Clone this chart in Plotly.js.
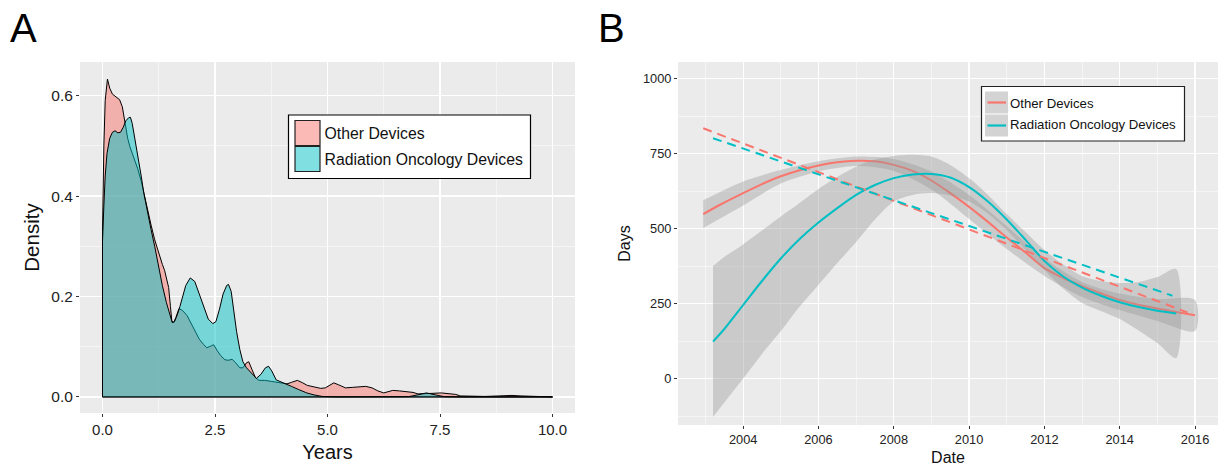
<!DOCTYPE html>
<html><head><meta charset="utf-8">
<script src="https://cdn.plot.ly/plotly-3.0.1.min.js"></script>
<style>html,body{margin:0;padding:0;background:#fff;}#chart{width:1226px;height:473px;}</style>
</head><body><div id="chart"></div>
<script>
// ---------- Panel A: density of years ----------
const otherYearsX = [0.00,0.03,0.06,0.11,0.16,0.22,0.30,0.38,0.44,0.50,0.56,0.61,0.70,0.78,0.86,0.93,1.00,1.08,1.16,1.25,1.33,1.38,1.43,1.47,1.51,1.54,1.58,1.63,1.70,1.78,1.88,1.98,2.06,2.15,2.25,2.32,2.40,2.47,2.55,2.63,2.72,2.80,2.88,2.96,3.05,3.12,3.20,3.25,3.32,3.40,3.48,3.60,3.75,3.90,4.00,4.10,4.20,4.33,4.45,4.55,4.70,4.85,4.95,5.05,5.14,5.25,5.40,5.55,5.73,5.85,5.99,6.12,6.25,6.35,6.45,6.60,6.76,6.90,7.01,7.15,7.30,7.53,7.70,7.85,7.95,8.20,8.50,8.80,9.10,9.30,9.60,10.00];
const otherDensity = [0.33,0.50,0.59,0.633,0.615,0.603,0.598,0.592,0.578,0.545,0.515,0.498,0.475,0.455,0.43,0.40,0.372,0.342,0.313,0.285,0.264,0.252,0.236,0.218,0.18,0.152,0.148,0.158,0.176,0.172,0.162,0.145,0.132,0.115,0.104,0.098,0.101,0.104,0.092,0.082,0.074,0.073,0.075,0.068,0.058,0.058,0.068,0.070,0.055,0.038,0.033,0.033,0.031,0.029,0.027,0.026,0.029,0.033,0.028,0.023,0.020,0.017,0.018,0.023,0.028,0.024,0.018,0.019,0.021,0.021,0.018,0.012,0.008,0.011,0.013,0.012,0.011,0.009,0.006,0.006,0.007,0.008,0.007,0.005,0.002,0.001,0.001,0.002,0.003,0.002,0.001,0.0];
const radYearsX = [0.00,0.03,0.06,0.10,0.16,0.22,0.28,0.34,0.40,0.46,0.52,0.58,0.62,0.66,0.70,0.75,0.80,0.86,0.92,1.00,1.08,1.16,1.25,1.33,1.42,1.50,1.55,1.60,1.66,1.72,1.78,1.85,1.95,2.05,2.15,2.25,2.35,2.45,2.52,2.60,2.68,2.76,2.80,2.86,2.92,2.98,3.05,3.12,3.20,3.30,3.42,3.52,3.62,3.69,3.76,3.86,4.00,4.10,4.20,4.35,4.54,4.70,4.88,5.20,6.00,6.80,7.00,7.20,7.40,7.60,8.00,10.00];
const radDensity = [0.31,0.38,0.44,0.485,0.515,0.527,0.53,0.526,0.527,0.537,0.55,0.556,0.557,0.545,0.525,0.50,0.475,0.44,0.405,0.365,0.333,0.300,0.255,0.222,0.188,0.160,0.148,0.150,0.163,0.180,0.200,0.222,0.237,0.23,0.205,0.178,0.155,0.146,0.150,0.175,0.205,0.222,0.224,0.21,0.17,0.13,0.095,0.07,0.058,0.048,0.037,0.045,0.058,0.061,0.052,0.034,0.028,0.025,0.021,0.015,0.008,0.004,0.001,0.0,0.0,0.0005,0.004,0.008,0.004,0.0005,0.0,0.0];
const xTicksA = [0, 2.5, 5, 7.5, 10];
const xTickLabelsA = ['0.0','2.5','5.0','7.5','10.0'];
const yTicksA = [0, 0.2, 0.4, 0.6];
const yTickLabelsA = ['0.0','0.2','0.4','0.6'];

// ---------- Panel B: days vs date ----------
const otherFitYears = [2002.94,2003.4,2004.0,2004.5,2005.0,2005.5,2006.0,2006.5,2007.0,2007.5,2008.0,2008.5,2009.0,2009.5,2010.0,2010.5,2011.0,2011.5,2012.0,2012.5,2013.0,2013.5,2014.0,2014.5,2015.0,2015.5,2016.0];
const otherFitDays = [548,580,618,648,674,694,710,721,726,724,712,692,660,618,572,522,470,420,368,335,308,284,262,246,233,222,211];
const otherBandYears = [2002.94,2004,2005,2006,2007,2008,2009,2010,2011,2012,2013,2014,2015,2016];
const otherBandUpper = [594,657,695,724,740,732,690,612,508,400,322,283,265,262];
const otherBandLower = [502,577,650,690,708,692,630,532,432,342,272,228,192,158];

const radFitYears = [2003.2,2003.5,2004.0,2004.5,2005.0,2005.5,2006.0,2006.5,2007.0,2007.5,2008.0,2008.5,2009.0,2009.5,2010.0,2010.5,2011.0,2011.5,2012.0,2012.5,2013.0,2013.5,2014.0,2014.5,2015.0,2015.5];
const radFitDays = [123,165,245,325,400,465,520,568,612,645,668,680,682,670,638,590,530,462,392,340,303,276,254,238,226,217];
const radBandYears = [2003.2,2003.5,2004.0,2004.5,2005.0,2005.5,2006.0,2006.5,2007.0,2007.5,2008.0,2008.5,2009.0,2009.5,2010.0,2010.5,2011.0,2011.5,2012.0,2012.5,2013.0,2013.5,2014.0,2014.5,2015.0,2015.5];
const radBandUpper = [375,405,447,493,540,585,632,672,706,730,742,746,740,712,668,612,548,488,428,380,342,325,318,322,338,365];
const radBandLower = [-128,-80,0,82,158,240,312,385,455,530,590,612,618,610,590,550,495,428,362,300,252,225,198,160,118,68];

const otherTrendYears = [2002.94, 2015.8];
const otherTrendDays = [834, 220];
const radTrendYears = [2003.2, 2015.4];
const radTrendDays = [801, 276];

const xTicksB = [2004,2006,2008,2010,2012,2014,2016];
const xTickLabelsB = ['2004','2006','2008','2010','2012','2014','2016'];
const yTicksB = [0,250,500,750,1000];
const yTickLabelsB = ['0','250','500','750','1000'];

const seriesNames = ['Other Devices','Radiation Oncology Devices'];
const RED = '#F8766D', CYAN = '#00BFC4';
const RED_FILL = 'rgba(248,118,109,0.5)', CYAN_FILL = 'rgba(0,191,196,0.5)';
const BAND_FILL = 'rgba(153,153,153,0.4)';
const FONT = 'Liberation Sans, Arial, Helvetica, sans-serif';
const W = 1226, H = 473;

function densityPolygon(xs, ys){
  return {x:[0].concat(xs, [xs[xs.length-1], 0]), y:[0].concat(ys, [0, 0])};
}
function bandPolygon(xs, up, lo){
  return {x: xs.concat(xs.slice().reverse()), y: up.concat(lo.slice().reverse())};
}
const pO = densityPolygon(otherYearsX, otherDensity);
const pR = densityPolygon(radYearsX, radDensity);
const bO = bandPolygon(otherBandYears, otherBandUpper, otherBandLower);
const bR = bandPolygon(radBandYears, radBandUpper, radBandLower);

const traces = [
  {type:'scatter', mode:'lines', x:pO.x, y:pO.y, fill:'toself', fillcolor:RED_FILL,
   line:{color:'#000', width:1}, showlegend:false, xaxis:'x', yaxis:'y'},
  {type:'scatter', mode:'lines', x:pR.x, y:pR.y, fill:'toself', fillcolor:CYAN_FILL,
   line:{color:'#000', width:1}, showlegend:false, xaxis:'x', yaxis:'y'},
  // legend labels (keys drawn as legend decoration shapes)
  {type:'scatter', mode:'lines', x:[null], y:[null], line:{width:0}, name:seriesNames[0], legend:'legend', legendgroup:'a1', xaxis:'x', yaxis:'y'},
  {type:'scatter', mode:'lines', x:[null], y:[null], line:{width:0}, name:seriesNames[1], legend:'legend', legendgroup:'a2', xaxis:'x', yaxis:'y'},

  {type:'scatter', mode:'lines', x:bO.x, y:bO.y, fill:'toself', fillcolor:BAND_FILL,
   line:{width:0, shape:'spline', smoothing:0.8}, showlegend:false, xaxis:'x2', yaxis:'y2'},
  {type:'scatter', mode:'lines', x:otherFitYears, y:otherFitDays, line:{color:RED, width:2, shape:'spline', smoothing:0.8},
   showlegend:false, xaxis:'x2', yaxis:'y2'},
  {type:'scatter', mode:'lines', x:bR.x, y:bR.y, fill:'toself', fillcolor:BAND_FILL,
   line:{width:0, shape:'spline', smoothing:0.8}, showlegend:false, xaxis:'x2', yaxis:'y2'},
  {type:'scatter', mode:'lines', x:radFitYears, y:radFitDays, line:{color:CYAN, width:2, shape:'spline', smoothing:0.8},
   showlegend:false, xaxis:'x2', yaxis:'y2'},
  {type:'scatter', mode:'lines', x:otherTrendYears, y:otherTrendDays, line:{color:RED, width:2, dash:'9px,6px'},
   showlegend:false, xaxis:'x2', yaxis:'y2'},
  {type:'scatter', mode:'lines', x:radTrendYears, y:radTrendDays, line:{color:CYAN, width:2, dash:'9px,6px'},
   showlegend:false, xaxis:'x2', yaxis:'y2'},
  {type:'scatter', mode:'lines', x:[null], y:[null], line:{width:0}, name:seriesNames[0], legend:'legend2', legendgroup:'b1', xaxis:'x2', yaxis:'y2'},
  {type:'scatter', mode:'lines', x:[null], y:[null], line:{width:0}, name:seriesNames[1], legend:'legend2', legendgroup:'b2', xaxis:'x2', yaxis:'y2'}
];

// pixel -> paper helpers for legend decoration
const px = v => v / W, py = v => 1 - v / H;
function rect(x0, y0, x1, y1, fill, lineColor, lw){
  return {type:'rect', xref:'paper', yref:'paper', x0:px(x0), x1:px(x1), y0:py(y1), y1:py(y0),
    fillcolor:fill, line:{color:lineColor || 'rgba(0,0,0,0)', width:lw || 0}, layer:'above'};
}
function hline(x0, x1, y, color){
  return {type:'line', xref:'paper', yref:'paper', x0:px(x0), x1:px(x1), y0:py(y), y1:py(y),
    line:{color:color, width:2.2}, layer:'above'};
}
const shapes = [
  rect(288.5, 115, 530.5, 178.5, '#FFFFFF', '#000', 1.2),
  rect(295, 120.5, 320, 145.5, RED_FILL, '#222', 1.2),
  rect(295, 146.5, 320, 171.5, CYAN_FILL, '#222', 1.2),
  rect(981.5, 86.5, 1184.5, 141, '#FFFFFF', '#222', 1.2),
  rect(985, 91.5, 1008, 113.5, '#D3D3D3'),
  rect(985, 114.5, 1008, 136.5, '#D3D3D3'),
  hline(987.5, 1006, 102.5, RED),
  hline(987.5, 1006, 125.5, CYAN)
];

const axBase = {showgrid:true, gridcolor:'#FFFFFF', gridwidth:1.2, zeroline:false, showline:false,
  ticks:'outside', ticklen:3, tickcolor:'#333', tickwidth:1, tickmode:'array'};

const layout = {
  width:W, height:H, margin:{l:0,r:0,t:0,b:0},
  paper_bgcolor:'#FFFFFF', plot_bgcolor:'#EBEBEB',
  font:{family:FONT, color:'#1a1a1a'},
  showlegend:true,
  xaxis: Object.assign({}, axBase, {domain:[80/W, 575/W], anchor:'y', range:[-0.5,10.5],
    tickvals:xTicksA, ticktext:xTickLabelsA, tickfont:{size:15, color:'#222'},
    minor:{tickvals:[1.25,3.75,6.25,8.75], showgrid:true, gridcolor:'#FFFFFF', gridwidth:0.5, ticks:''},
    title:{text:'Years', font:{size:20, color:'#111'}, standoff:7}}),
  yaxis: Object.assign({}, axBase, {domain:[(H-413)/H, (H-62)/H], anchor:'x', range:[-0.032,0.667],
    tickvals:yTicksA, ticktext:yTickLabelsA, tickfont:{size:15.5, color:'#222'},
    minor:{tickvals:[0.1,0.3,0.5], showgrid:true, gridcolor:'#FFFFFF', gridwidth:0.5, ticks:''},
    title:{text:'Density', font:{size:20.5, color:'#111'}, standoff:6}}),
  xaxis2: Object.assign({}, axBase, {domain:[678/W, 1218/W], anchor:'y2', range:[2002.27,2016.61],
    tickvals:xTicksB, ticktext:xTickLabelsB, tickfont:{size:12.8, color:'#222'},
    minor:{tickvals:[2003,2005,2007,2009,2011,2013,2015], showgrid:true, gridcolor:'#FFFFFF', gridwidth:0.5, ticks:''},
    title:{text:'Date', font:{size:16, color:'#111'}, standoff:5}}),
  yaxis2: Object.assign({}, axBase, {domain:[(H-425)/H, (H-62)/H], anchor:'x2', range:[-155,1055],
    tickvals:yTicksB, ticktext:yTickLabelsB, tickfont:{size:12.8, color:'#222'},
    minor:{tickvals:[-125,125,375,625,875], showgrid:true, gridcolor:'#FFFFFF', gridwidth:0.5, ticks:''},
    title:{text:'Days', font:{size:16, color:'#111'}, standoff:8}}),
  legend:{x:284.5/W, y:py(116), xanchor:'left', yanchor:'top', bgcolor:'rgba(0,0,0,0)',
    borderwidth:0, font:{size:15.8, color:'#111'}, traceorder:'grouped', tracegroupgap:2.5},
  legend2:{x:970/W, y:py(88), xanchor:'left', yanchor:'top', bgcolor:'rgba(0,0,0,0)',
    borderwidth:0, font:{size:13.2, color:'#111'}, traceorder:'grouped', tracegroupgap:1},
  shapes: shapes,
  annotations:[
    {text:'A', xref:'paper', yref:'paper', x:8/W, y:1-4/H, xanchor:'left', yanchor:'top', showarrow:false, font:{size:40, color:'#000'}},
    {text:'B', xref:'paper', yref:'paper', x:596/W, y:1-4/H, xanchor:'left', yanchor:'top', showarrow:false, font:{size:40, color:'#000'}}
  ]
};

Plotly.newPlot('chart', traces, layout, {staticPlot:true, displayModeBar:false});
</script>
</body></html>
